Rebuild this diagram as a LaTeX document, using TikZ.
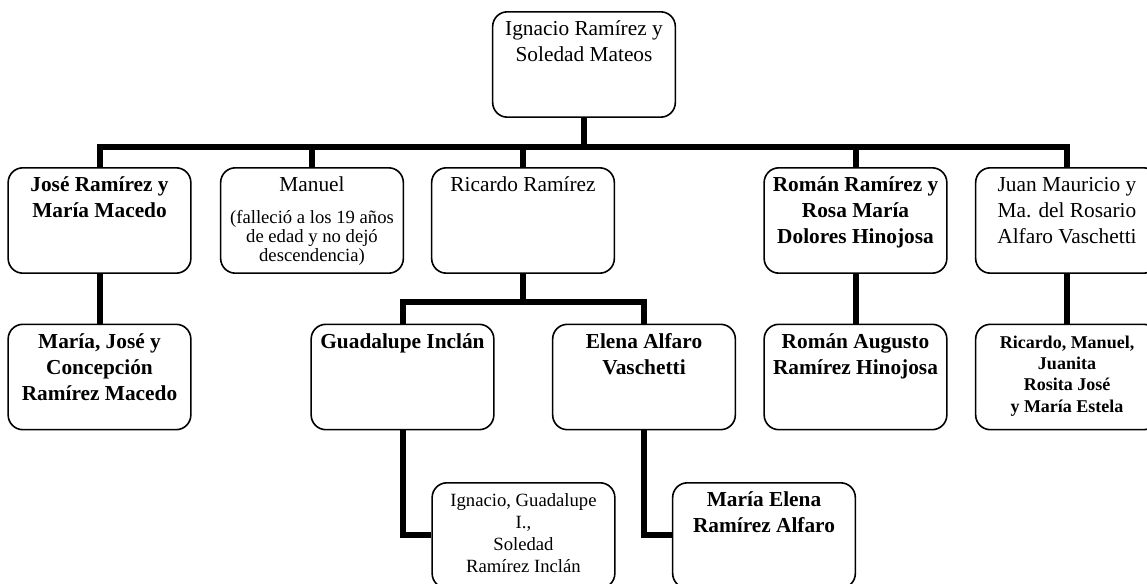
\documentclass[tikz,border=0pt]{standalone}
\usepackage{fontspec}
\setmainfont{Liberation Serif}
\usepackage{tikz}

\newcommand{\grande}{\fontsize{16}{19.5}\selectfont}
\newcommand{\chico}{\fontsize{13.5}{16}\selectfont}
\newcommand{\ficha}[2][\grande]{\parbox[c][69pt][t]{127pt}{#1\centering\rule{0pt}{13pt}#2}}

\begin{document}
\begin{tikzpicture}[x=0.75pt,y=-0.75pt,
  caja/.style={draw,line width=1.2pt,rounded corners=11pt,inner sep=5pt,fill=white},
  rama/.style={line width=4.5pt}]
\useasboundingbox (0,0) rectangle (1147,584);
\node[caja] (raiz) at (584,64.5) {\ficha{Ignacio Ramírez y\\Soledad Mateos}};
\node[caja] (jose) at (99.5,220.5) {\ficha{\bfseries José Ramírez y\\María Macedo}};
\node[caja] (manuel) at (312,220.5) {\ficha{Manuel\par\vspace{9pt}\fontsize{14}{14.5}\selectfont
  (falleció a los 19 años\\de edad y no dejó\\descendencia)}};
\node[caja] (ricardo) at (523,220.5) {\ficha{Ricardo Ramírez}};
\node[caja] (roman) at (855.5,220.5) {\ficha{\bfseries Román Ramírez y\\Rosa María\\Dolores Hinojosa}};
\node[caja] (juan) at (1067,220.5) {\ficha{Juan Mauricio y\\Ma. del Rosario\\Alfaro Vaschetti}};
\node[caja] (josehijos) at (99.5,377) {\ficha{\bfseries María, José y\\Concepción\\Ramírez Macedo}};
\node[caja] (guadalupe) at (402.5,377) {\ficha{\bfseries Guadalupe Inclán}};
\node[caja] (elena) at (644,377) {\ficha{\bfseries Elena Alfaro\\Vaschetti}};
\node[caja] (romanhijo) at (855.5,377) {\ficha{\bfseries Román Augusto\\Ramírez Hinojosa}};
\node[caja] (juanhijos) at (1067,377) {\ficha[\chico]{\bfseries Ricardo, Manuel,\\Juanita\\Rosita José\\y María Estela}};
\node[caja] (ignaciohijos) at (523.5,535.5) {\ficha[\fontsize{14}{16.5}\selectfont]{Ignacio, Guadalupe\\I.,\\Soledad\\Ramírez Inclán}};
\node[caja] (elenahija) at (764,535.5) {\ficha{\bfseries María Elena\\Ramírez Alfaro}};
\draw[rama] (raiz.south) -- ++(0,29) -| (jose.north);
\draw[rama] (raiz.south) -- ++(0,29) -| (manuel.north);
\draw[rama] (raiz.south) -- ++(0,29) -| (ricardo.north);
\draw[rama] (raiz.south) -- ++(0,29) -| (roman.north);
\draw[rama] (raiz.south) -- ++(0,29) -| (juan.north);
\draw[rama] (jose.south) -- (josehijos.north);
\draw[rama] (ricardo.south) -- ++(0,28.5) -| (guadalupe.north);
\draw[rama] (ricardo.south) -- ++(0,28.5) -| (elena.north);
\draw[rama] (roman.south) -- (romanhijo.north);
\draw[rama] (juan.south) -- (juanhijos.north);
\draw[rama] (guadalupe.south) |- (ignaciohijos.west);
\draw[rama] (elena.south) |- (elenahija.west);
\end{tikzpicture}
\end{document}
